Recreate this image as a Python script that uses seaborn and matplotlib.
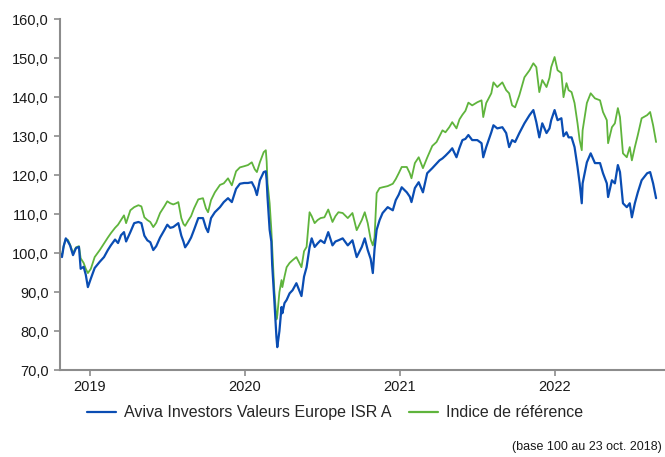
import pandas as pd
import matplotlib
matplotlib.use("Agg")
import matplotlib.pyplot as plt
import matplotlib.dates as mdates
from matplotlib.ticker import FuncFormatter
import seaborn as sns

FUND_LABEL = "Aviva Investors Valeurs Europe ISR A"
INDEX_LABEL = "Indice de référence"
NOTE = "(base 100 au 23 oct. 2018)"

dates = [
    "2018-10-23", "2018-10-28", "2018-11-01", "2018-11-06", "2018-11-11", "2018-11-16",
    "2018-11-23", "2018-11-30", "2018-12-07", "2018-12-11", "2018-12-18", "2018-12-23",
    "2018-12-28", "2019-01-04", "2019-01-13", "2019-01-25", "2019-02-04", "2019-02-13",
    "2019-02-20", "2019-03-02", "2019-03-09", "2019-03-16", "2019-03-23", "2019-03-28",
    "2019-04-07", "2019-04-16", "2019-04-26", "2019-05-03", "2019-05-10", "2019-05-17",
    "2019-05-24", "2019-05-31", "2019-06-07", "2019-06-16", "2019-06-26", "2019-07-03",
    "2019-07-10", "2019-07-17", "2019-07-24", "2019-07-29", "2019-08-05", "2019-08-10",
    "2019-08-14", "2019-08-21", "2019-08-28", "2019-09-04", "2019-09-14", "2019-09-25",
    "2019-10-02", "2019-10-07", "2019-10-14", "2019-10-23", "2019-11-04", "2019-11-13",
    "2019-11-23", "2019-12-02", "2019-12-12", "2019-12-21", "2019-12-31", "2020-01-09",
    "2020-01-18", "2020-01-25", "2020-01-30", "2020-02-06", "2020-02-15", "2020-02-20",
    "2020-02-22", "2020-02-24", "2020-02-29", "2020-03-04", "2020-03-06", "2020-03-11",
    "2020-03-16", "2020-03-18", "2020-03-23", "2020-03-28", "2020-03-30", "2020-04-04",
    "2020-04-09", "2020-04-16", "2020-04-23", "2020-05-02", "2020-05-14", "2020-05-20",
    "2020-05-26", "2020-06-02", "2020-06-07", "2020-06-14", "2020-06-21", "2020-06-28",
    "2020-07-07", "2020-07-16", "2020-07-26", "2020-08-02", "2020-08-09", "2020-08-19",
    "2020-08-31", "2020-09-11", "2020-09-21", "2020-10-03", "2020-10-10", "2020-10-17",
    "2020-10-24", "2020-10-29", "2020-11-02", "2020-11-07", "2020-11-14", "2020-11-21",
    "2020-12-03", "2020-12-15", "2020-12-22", "2020-12-29", "2021-01-05", "2021-01-17",
    "2021-01-24", "2021-01-28", "2021-02-05", "2021-02-14", "2021-02-24", "2021-03-06",
    "2021-03-18", "2021-03-28", "2021-04-04", "2021-04-11", "2021-04-18", "2021-04-27",
    "2021-05-04", "2021-05-14", "2021-05-21", "2021-05-28", "2021-06-04", "2021-06-11",
    "2021-06-20", "2021-07-02", "2021-07-12", "2021-07-16", "2021-07-23", "2021-08-04",
    "2021-08-09", "2021-08-18", "2021-08-30", "2021-09-08", "2021-09-15", "2021-09-22",
    "2021-09-29", "2021-10-09", "2021-10-21", "2021-11-02", "2021-11-11", "2021-11-18",
    "2021-11-25", "2021-12-02", "2021-12-12", "2021-12-19", "2021-12-23", "2021-12-31",
    "2022-01-07", "2022-01-16", "2022-01-21", "2022-01-28", "2022-02-02", "2022-02-09",
    "2022-02-16", "2022-02-23", "2022-02-28", "2022-03-05", "2022-03-07", "2022-03-17",
    "2022-03-26", "2022-04-05", "2022-04-17", "2022-04-24", "2022-05-03", "2022-05-06",
    "2022-05-15", "2022-05-22", "2022-05-29", "2022-06-03", "2022-06-10", "2022-06-19",
    "2022-06-26", "2022-07-01", "2022-07-08", "2022-07-15", "2022-07-24", "2022-08-06",
    "2022-08-13", "2022-08-20", "2022-08-27",
]

fund = [
    100.0, 99.0, 101.8, 103.8, 103.0, 102.0,
    99.5, 101.3, 101.6, 96.0, 96.5, 94.5,
    91.3, 93.5, 96.2, 97.8, 99.0, 100.8,
    102.0, 103.5, 102.6, 104.6, 105.4, 103.0,
    105.4, 107.7, 108.0, 107.7, 104.5, 103.3,
    102.8, 100.8, 101.8, 104.0, 105.9, 107.3,
    106.5, 106.7, 107.3, 107.7, 104.5, 103.0,
    101.5, 102.6, 104.0, 106.0, 109.0, 109.0,
    106.5, 105.4, 109.0, 110.5, 111.8, 113.1,
    114.1, 113.1, 116.5, 117.8, 118.0, 118.0,
    118.2, 116.7, 114.9, 118.7, 120.8, 121.0,
    118.7, 114.4, 106.0, 103.0, 97.0, 88.0,
    78.5, 75.9, 80.0, 86.2, 84.6, 87.2,
    88.0, 89.7, 90.5, 92.3, 89.0, 94.0,
    96.4, 101.5, 103.8, 101.6, 102.5, 103.3,
    102.6, 105.4, 102.0, 103.0, 103.3, 103.8,
    102.0, 103.3, 99.0, 101.6, 103.8, 100.8,
    98.5, 94.9, 101.0, 106.0, 108.5, 110.3,
    111.8, 111.0, 113.6, 115.0, 116.9, 115.6,
    114.5, 113.1, 116.7, 118.2, 115.6, 120.5,
    121.8, 123.0, 123.8, 124.3, 125.0, 126.0,
    126.9, 124.6, 127.0, 129.0, 129.3, 130.3,
    129.0, 129.0, 128.2, 124.6, 127.2, 131.0,
    132.8, 132.0, 132.3, 130.8, 127.2, 129.0,
    128.5, 130.8, 133.3, 135.4, 136.7, 133.6,
    129.7, 133.3, 130.8, 132.0, 134.1, 136.7,
    134.1, 134.6, 130.0, 131.0, 129.7, 129.7,
    127.2, 122.1, 117.9, 112.8, 117.9, 123.3,
    125.6, 123.1, 123.1, 120.5, 117.9, 114.4,
    118.7, 117.9, 122.6, 120.8, 112.8, 111.8,
    112.8, 109.2, 112.8, 115.6, 118.7, 120.5,
    120.8, 117.9, 114.1,
]

benchmark = [
    100.0, 99.5, 101.8, 103.6, 103.4, 102.2,
    100.0, 101.5, 101.8, 98.7, 97.5, 96.0,
    94.9, 96.0, 99.0, 100.8, 102.5, 104.0,
    105.1, 106.5, 107.3, 108.5, 109.7, 107.7,
    111.0, 111.8, 112.3, 112.0, 109.2, 108.5,
    108.0, 106.7, 107.8, 110.3, 112.0, 113.3,
    112.8, 112.5, 112.8, 113.1, 109.0, 107.5,
    107.0, 108.3, 109.5, 111.5, 113.8, 114.1,
    111.5, 110.5, 113.6, 115.6, 117.5, 117.9,
    119.2, 117.4, 121.0, 122.0, 122.3, 122.6,
    123.3, 121.5, 120.8, 123.3, 125.9, 126.4,
    123.5, 118.0, 112.8, 106.0, 101.6, 90.5,
    83.0, 84.0, 90.0, 93.1, 91.3, 94.0,
    96.4, 97.5, 98.2, 99.0, 96.4, 100.5,
    101.6, 110.5, 109.5, 107.7, 108.5, 109.0,
    109.2, 111.2, 108.0, 109.5, 110.5, 110.3,
    109.0, 110.3, 105.9, 108.5, 110.5, 107.7,
    103.5, 102.0, 104.0, 115.4, 116.7, 116.9,
    117.2, 117.8, 119.0, 120.5, 122.1, 122.1,
    120.5, 119.2, 123.1, 124.6, 121.8, 124.5,
    127.5, 128.5, 130.0, 131.5, 131.0, 132.3,
    133.6, 132.0, 134.3, 135.5, 136.5, 138.6,
    137.9, 138.7, 139.2, 134.9, 138.5, 141.0,
    143.8, 142.6, 143.8, 141.8, 141.0, 137.9,
    137.4, 140.5, 145.1, 146.9, 148.7, 147.7,
    141.3, 144.4, 142.6, 145.0, 147.7, 150.3,
    146.9, 146.2, 140.0, 143.6, 141.8, 141.3,
    138.5, 133.3, 129.0, 126.4, 131.5, 138.5,
    141.0, 139.7, 139.2, 136.2, 134.1, 128.2,
    132.3, 133.3, 137.2, 134.9, 125.6, 124.6,
    127.2, 123.8, 127.2, 130.3, 134.6, 135.4,
    136.2, 132.8, 128.5,
]

BLUE = "#0a4db3"
GREEN = "#5fb43c"
AXIS_GREY = "#8c8c8c"

sns.set_theme(style="white")
plt.rcParams["font.family"] = ["Liberation Sans", "DejaVu Sans"]

df = pd.DataFrame({"date": pd.to_datetime(dates), FUND_LABEL: fund, INDEX_LABEL: benchmark})
long_df = df.melt(id_vars="date", var_name="serie", value_name="valeur")

fig = plt.figure(figsize=(6.65, 4.57), dpi=100)
ax = fig.add_axes([0.090, 0.190, 0.910, 0.768])

sns.lineplot(data=long_df, x="date", y="valeur", hue="serie",
             hue_order=[INDEX_LABEL, FUND_LABEL],
             palette={FUND_LABEL: BLUE, INDEX_LABEL: GREEN},
             size="serie", sizes={FUND_LABEL: 1.6, INDEX_LABEL: 1.3},
             ax=ax, legend=False)

ax.set_ylim(70, 160)
ax.set_yticks(range(70, 161, 10))
ax.yaxis.set_major_formatter(FuncFormatter(lambda v, _: f"{v:.1f}".replace(".", ",")))
ax.set_xlim(pd.Timestamp("2018-10-23"), pd.Timestamp("2022-09-17"))
ax.xaxis.set_major_locator(mdates.YearLocator())
ax.xaxis.set_major_formatter(mdates.DateFormatter("%Y"))
ax.set_xlabel("")
ax.set_ylabel("")

for side in ["top", "right"]:
    ax.spines[side].set_visible(False)
for side in ["left", "bottom"]:
    ax.spines[side].set_color(AXIS_GREY)
    ax.spines[side].set_linewidth(1.5)
ax.tick_params(axis="both", which="major", direction="out", length=4, width=1.2,
               color=AXIS_GREY, labelsize=10.5, labelcolor="#1a1a1a", left=True, bottom=True)
ax.tick_params(axis="y", pad=4)
ax.tick_params(axis="x", pad=3)

handles = [plt.Line2D([], [], color=BLUE, lw=1.6), plt.Line2D([], [], color=GREEN, lw=1.6)]
fig.legend(handles, [FUND_LABEL, INDEX_LABEL], loc="center", bbox_to_anchor=(0.504, 0.097),
           ncol=2, frameon=False, fontsize=11.5, handlelength=1.8, columnspacing=1.1,
           handletextpad=0.5)

fig.text(0.995, 0.022, NOTE, ha="right", va="center", fontsize=9, color="#1a1a1a")

fig.savefig("out.png", dpi=100)
